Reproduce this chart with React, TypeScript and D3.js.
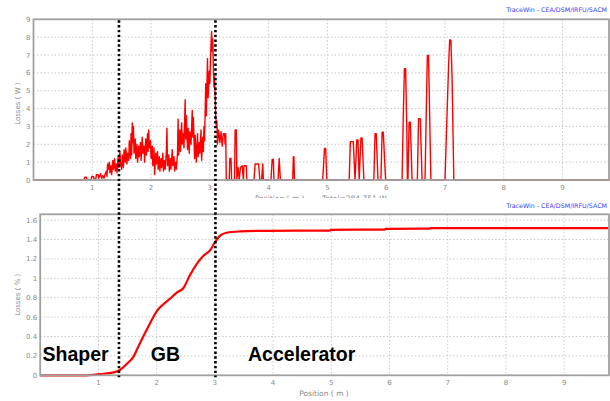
import React, { useEffect, useRef } from 'react';
import * as d3 from 'd3';

// tick values
const xTicks = [1, 2, 3, 4, 5, 6, 7, 8, 9];
const powerTicks = [0, 1, 2, 3, 4, 5, 6, 7, 8, 9];
const percentTicks = [0, 0.2, 0.4, 0.6, 0.8, 1, 1.2, 1.4, 1.6];

// losses (W) along the line, [position m, W]
const powerLoss: [number, number][] = [
  [0, 0], [0.86, 0], [0.87, 0.15], [0.9, 0.15], [0.91, 0], [0.98, 0], [0.99, 0.2], [1.02, 0.2],
  [1.03, 0.05], [1.06, 0.05], [1.07, 0.3], [1.1, 0.3], [1.11, 0.1], [1.14, 0.35], [1.16, 0.1],
  [1.18, 0.25], [1.2, 0.1], [1.22, 0.35], [1.24, 0.5], [1.25, 0.2], [1.26, 0.9], [1.27, 0.6],
  [1.29, 1.0], [1.3, 0.4], [1.32, 0.8], [1.33, 0.3], [1.35, 1.1], [1.36, 0.6], [1.38, 1.2],
  [1.39, 0.5], [1.41, 0.9], [1.42, 0.4], [1.44, 1.3], [1.45, 0.7], [1.47, 1.6], [1.48, 0.9],
  [1.5, 0.6], [1.51, 1.4], [1.53, 0.7], [1.54, 1.7], [1.56, 1.0], [1.57, 1.8], [1.59, 0.9],
  [1.6, 1.5], [1.62, 1.1], [1.63, 2.2], [1.65, 1.2], [1.66, 2.6], [1.67, 1.4], [1.68, 3.2],
  [1.69, 2.1], [1.7, 3.0], [1.71, 1.5], [1.73, 2.3], [1.74, 1.2], [1.76, 2.0], [1.77, 1.0],
  [1.79, 1.9], [1.8, 1.3], [1.82, 2.1], [1.83, 1.1], [1.85, 2.4], [1.86, 1.5], [1.88, 1.9],
  [1.89, 1.0], [1.91, 2.3], [1.92, 1.4], [1.94, 2.6], [1.95, 1.6], [1.96, 2.8], [1.97, 1.8],
  [1.99, 2.2], [2.0, 1.2], [2.02, 1.9], [2.03, 0.8], [2.05, 1.8], [2.06, 0.3], [2.08, 1.5],
  [2.09, 0.9], [2.11, 1.6], [2.12, 0.6], [2.14, 1.3], [2.15, 0.5], [2.17, 1.2], [2.18, 0.7],
  [2.2, 1.5], [2.21, 0.5], [2.23, 1.1], [2.24, 0.6], [2.26, 1.6], [2.27, 2.9], [2.28, 0.8],
  [2.3, 1.4], [2.31, 0.5], [2.33, 1.2], [2.34, 0.6], [2.36, 1.7], [2.37, 0.8], [2.39, 1.3],
  [2.4, 0.5], [2.42, 1.0], [2.43, 0.6], [2.45, 1.5], [2.46, 3.4], [2.47, 1.4], [2.49, 2.8],
  [2.5, 1.6], [2.52, 3.2], [2.53, 2.0], [2.55, 2.6], [2.56, 1.8], [2.58, 4.5], [2.59, 2.3],
  [2.6, 3.6], [2.62, 1.7], [2.63, 2.9], [2.65, 1.5], [2.66, 2.7], [2.68, 2.0], [2.7, 3.9],
  [2.71, 2.4], [2.72, 3.5], [2.74, 1.2], [2.75, 2.5], [2.77, 1.0], [2.79, 2.6], [2.8, 1.3],
  [2.82, 2.1], [2.83, 1.5], [2.85, 2.8], [2.86, 1.1], [2.88, 2.4], [2.89, 1.6], [2.9, 3.0],
  [2.91, 2.2], [2.93, 5.4], [2.94, 3.6], [2.96, 6.8], [2.97, 4.6], [2.99, 6.1], [3.0, 5.4],
  [3.02, 7.6], [3.03, 8.3], [3.04, 7.2], [3.05, 7.9], [3.06, 6.3], [3.07, 5.2], [3.08, 5.8],
  [3.1, 3.6], [3.11, 3.0], [3.12, 3.3], [3.13, 2.0], [3.15, 2.8], [3.17, 2.1], [3.19, 2.7],
  [3.21, 1.9], [3.23, 2.6], [3.25, 2.6], [3.26, 2.0], [3.27, 2.6], [3.28, 0], [3.33, 0],
  [3.34, 1.2], [3.36, 1.2], [3.37, 0], [3.42, 0], [3.43, 2.8], [3.45, 2.8], [3.46, 0],
  [3.48, 0.7], [3.5, 0], [3.52, 0.7], [3.55, 0.8], [3.57, 0], [3.58, 0.8], [3.62, 0.8],
  [3.63, 0], [3.75, 0], [3.77, 0.9], [3.83, 0.9], [3.85, 0], [3.88, 0], [3.9, 0.9], [3.91, 0],
  [4.04, 0], [4.06, 1.15], [4.08, 1.15], [4.09, 0], [4.16, 0], [4.18, 1.2], [4.2, 0],
  [4.41, 0], [4.42, 1.3], [4.43, 1.3], [4.44, 0],
  [4.92, 0], [4.95, 1.77], [4.97, 1.77], [4.99, 0],
  [5.37, 0], [5.39, 2.15], [5.44, 2.15], [5.47, 0], [5.5, 2.25], [5.52, 2.25], [5.54, 0],
  [5.57, 2.35], [5.59, 2.35], [5.62, 0],
  [5.79, 0], [5.81, 2.6], [5.83, 2.6], [5.86, 0],
  [5.91, 0], [5.93, 2.68], [5.95, 2.68], [5.99, 0],
  [6.27, 0], [6.29, 3.5], [6.31, 6.23], [6.33, 6.23], [6.35, 3.0], [6.36, 0],
  [6.37, 0], [6.39, 3.24], [6.41, 3.24], [6.44, 0],
  [6.53, 0], [6.55, 3.43], [6.58, 3.43], [6.61, 0],
  [6.66, 0], [6.68, 3.5], [6.7, 6.97], [6.72, 6.97], [6.74, 3.5], [6.76, 0],
  [7.0, 0], [7.03, 3.2], [7.06, 6.3], [7.08, 7.85], [7.1, 7.85], [7.12, 5.8], [7.14, 2.0],
  [7.15, 0], [9.8, 0],
];

// cumulated losses (%), [position m, %]
const cumulLoss: [number, number][] = [
  [0, 0], [0.74, 0], [1.03, 0.013], [1.26, 0.03], [1.37, 0.055], [1.49, 0.12], [1.6, 0.19],
  [1.68, 0.29], [1.77, 0.4], [1.89, 0.54], [2.0, 0.66], [2.11, 0.73], [2.23, 0.79],
  [2.34, 0.85], [2.46, 0.9], [2.57, 1.03], [2.69, 1.15], [2.8, 1.23], [2.92, 1.29],
  [3.0, 1.37], [3.09, 1.44], [3.2, 1.47], [3.43, 1.483], [3.89, 1.49], [4.98, 1.492],
  [4.99, 1.5], [5.92, 1.503], [5.93, 1.51], [6.69, 1.512], [6.7, 1.517], [9.77, 1.518],
];

// section boundaries (m) and labels
const sectionBounds = [1.353, 3.01];
const sectionNames = ['Shaper', 'GB', 'Accelerator'];
const sectionLabelStart = [0.04, 1.9, 3.57];

const tickFont = 'DejaVu Sans, Verdana, sans-serif';

const App: React.FC = () => {
  const svgRef = useRef<SVGSVGElement>(null);

  useEffect(() => {
    if (!svgRef.current) return;
    const svg = d3.select(svgRef.current);
    svg.selectAll('*').remove();

    svg.append('rect').attr('width', 610).attr('height', 401).attr('fill', '#fff');

    // ---------- top panel: losses (W) ----------
    const top = { left: 33.5, right: 609, top: 19.3, bottom: 180 };
    const x1 = d3.scaleLinear().domain([0, 9.79]).range([top.left, top.right]);
    const y1 = d3.scaleLinear().domain([0, 9]).range([top.bottom, top.top]);

    const g1 = svg.append('g');
    g1.append('text')
      .attr('x', 607).attr('y', 12)
      .attr('text-anchor', 'end')
      .attr('font-family', tickFont).attr('font-size', 6.3)
      .attr('fill', '#3b3bf5')
      .text('TraceWin - CEA/DSM/IRFU/SACM');

    g1.append('g').selectAll('line.vx').data(xTicks).join('line')
      .attr('x1', (d) => x1(d)).attr('x2', (d) => x1(d))
      .attr('y1', top.top).attr('y2', top.bottom)
      .attr('stroke', '#c8c8c8').attr('stroke-dasharray', '1.5,2');
    g1.append('g').selectAll('line.hy').data(powerTicks.filter((d) => d > 0 && d < 9)).join('line')
      .attr('x1', top.left).attr('x2', top.right)
      .attr('y1', (d) => y1(d)).attr('y2', (d) => y1(d))
      .attr('stroke', '#c8c8c8').attr('stroke-dasharray', '1.5,2');

    g1.append('path')
      .datum(powerLoss)
      .attr('d', d3.line<[number, number]>().x((d) => x1(d[0])).y((d) => y1(d[1])))
      .attr('fill', 'none').attr('stroke', '#ff0000').attr('stroke-width', 1.4)
      .attr('stroke-linejoin', 'round');

    g1.append('rect')
      .attr('x', top.left).attr('y', top.top)
      .attr('width', top.right - top.left).attr('height', top.bottom - top.top)
      .attr('fill', 'none').attr('stroke', '#a0a0a0').attr('stroke-width', 1.8);

    g1.append('g').selectAll('text').data(powerTicks).join('text')
      .attr('x', top.left - 3).attr('y', (d) => y1(d) + 2.5)
      .attr('text-anchor', 'end')
      .attr('font-family', tickFont).attr('font-size', 7).attr('fill', '#8a8a8a')
      .text((d) => String(d));
    g1.append('g').selectAll('text').data(xTicks).join('text')
      .attr('x', (d) => x1(d)).attr('y', top.bottom + 10)
      .attr('text-anchor', 'middle')
      .attr('font-family', tickFont).attr('font-size', 7).attr('fill', '#8a8a8a')
      .text((d) => String(d));

    g1.append('text')
      .attr('transform', `translate(20,${(top.top + top.bottom) / 2 + 4}) rotate(-90)`)
      .attr('text-anchor', 'middle')
      .attr('font-family', tickFont).attr('font-size', 7).attr('fill', '#8a8a8a')
      .text('Losses ( W )');
    g1.append('text')
      .attr('x', 255).attr('y', 200.5)
      .attr('font-family', tickFont).attr('font-size', 7.5).attr('fill', '#8a8a8a')
      .text('Position ( m )');
    g1.append('text')
      .attr('x', 322).attr('y', 200.5)
      .attr('font-family', tickFont).attr('font-size', 7.5).attr('fill', '#8a8a8a')
      .text('Total=284.751 W');

    // ---------- bottom panel: losses (%) ----------
    svg.append('rect').attr('x', 0).attr('y', 198).attr('width', 610).attr('height', 203).attr('fill', '#fff');

    const bot = { left: 40.2, right: 609, top: 214.3, bottom: 375.3 };
    const x2 = d3.scaleLinear().domain([0, 9.77]).range([bot.left, bot.right]);
    const y2 = d3.scaleLinear().domain([0, 1.66]).range([bot.bottom, bot.top]);

    const g2 = svg.append('g');
    g2.append('text')
      .attr('x', 607).attr('y', 208)
      .attr('text-anchor', 'end')
      .attr('font-family', tickFont).attr('font-size', 6.3)
      .attr('fill', '#3b3bf5')
      .text('TraceWin - CEA/DSM/IRFU/SACM');

    g2.append('g').selectAll('line').data(xTicks).join('line')
      .attr('x1', (d) => x2(d)).attr('x2', (d) => x2(d))
      .attr('y1', bot.top).attr('y2', bot.bottom)
      .attr('stroke', '#c8c8c8').attr('stroke-dasharray', '1.5,2');
    g2.append('g').selectAll('line').data(percentTicks.filter((d) => d > 0)).join('line')
      .attr('x1', bot.left).attr('x2', bot.right)
      .attr('y1', (d) => y2(d)).attr('y2', (d) => y2(d))
      .attr('stroke', '#c8c8c8').attr('stroke-dasharray', '1.5,2');

    g2.append('path')
      .datum(cumulLoss)
      .attr('d', d3.line<[number, number]>().x((d) => x2(d[0])).y((d) => y2(d[1])).curve(d3.curveMonotoneX))
      .attr('fill', 'none').attr('stroke', '#ff0000').attr('stroke-width', 2.2);

    g2.append('rect')
      .attr('x', bot.left).attr('y', bot.top)
      .attr('width', bot.right - bot.left).attr('height', bot.bottom - bot.top)
      .attr('fill', 'none').attr('stroke', '#a0a0a0').attr('stroke-width', 1.8);

    g2.append('g').selectAll('text').data(percentTicks).join('text')
      .attr('x', bot.left - 3).attr('y', (d) => y2(d) + 2.5)
      .attr('text-anchor', 'end')
      .attr('font-family', tickFont).attr('font-size', 7).attr('fill', '#8a8a8a')
      .text((d) => d3.format('~g')(d));
    g2.append('g').selectAll('text').data(xTicks).join('text')
      .attr('x', (d) => x2(d)).attr('y', bot.bottom + 10)
      .attr('text-anchor', 'middle')
      .attr('font-family', tickFont).attr('font-size', 7).attr('fill', '#8a8a8a')
      .text((d) => String(d));

    g2.append('text')
      .attr('transform', `translate(20,${(bot.top + bot.bottom) / 2}) rotate(-90)`)
      .attr('text-anchor', 'middle')
      .attr('font-family', tickFont).attr('font-size', 7).attr('fill', '#8a8a8a')
      .text('Losses ( % )');
    g2.append('text')
      .attr('x', 324).attr('y', 396)
      .attr('text-anchor', 'middle')
      .attr('font-family', tickFont).attr('font-size', 7.5).attr('fill', '#8a8a8a')
      .text('Position ( m )');

    // section labels
    g2.append('g').selectAll('text').data(sectionNames).join('text')
      .attr('x', (_, i) => x2(sectionLabelStart[i]))
      .attr('y', y2(0.15))
      .attr('font-family', 'Liberation Sans, Arial, sans-serif')
      .attr('font-weight', 'bold').attr('font-size', 19.5).attr('fill', '#000')
      .text((d) => d);

    // dotted section boundaries across both panels
    svg.append('g').selectAll('line').data(sectionBounds).join('line')
      .attr('x1', (d) => x2(d)).attr('x2', (d) => x2(d))
      .attr('y1', top.top + 1).attr('y2', bot.bottom + 2)
      .attr('stroke', '#000').attr('stroke-width', 2.6)
      .attr('stroke-dasharray', '2.4,2.4');
  }, []);

  return (
    <svg
      ref={svgRef}
      width={610}
      height={401}
      style={{ position: 'absolute', left: 0, top: 0, display: 'block' }}
    />
  );
};

export default App;
